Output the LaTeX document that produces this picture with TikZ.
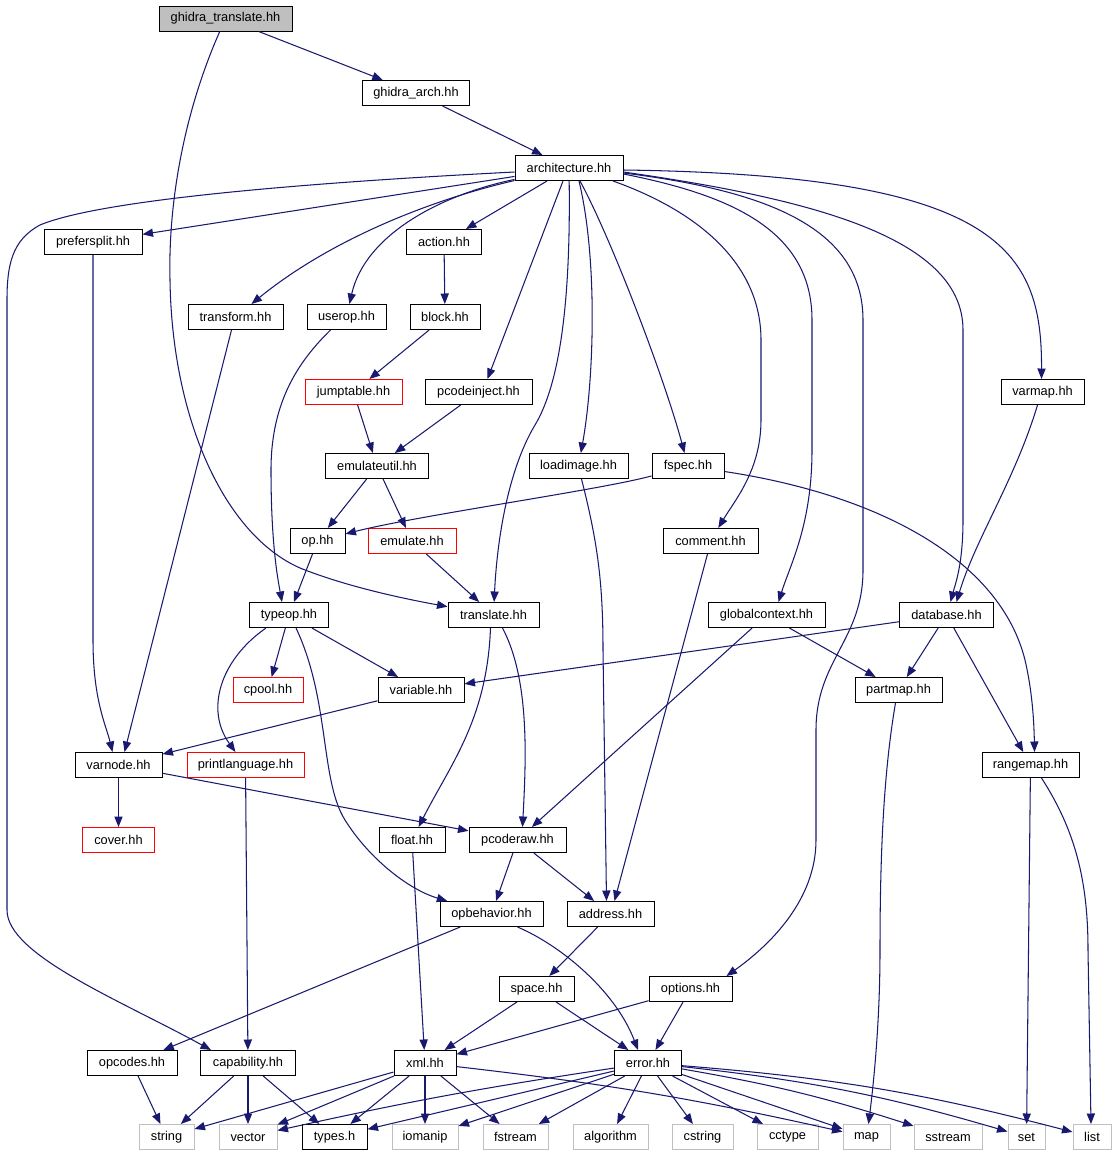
\documentclass[tikz,border=0pt]{standalone}
\usepackage{fontspec}
\setmainfont{Liberation Sans}
\usetikzlibrary{arrows.meta}
\definecolor{edgeblue}{RGB}{25,25,112}
\definecolor{greyS}{RGB}{191,191,191}
\begin{document}
\begin{tikzpicture}[x=1pt,y=-1pt,
  nd/.style={draw=black, line width=1pt, fill=white, minimum height=25pt, inner sep=0pt, font=\fontsize{12.8pt}{15pt}\selectfont},
  rednd/.style={nd, draw=red},
  sysnd/.style={nd, draw=greyS},
  rootnd/.style={nd, fill=greyS},
  conn/.style={draw=edgeblue, line width=1.05pt, -{Triangle[length=10.5pt,width=8.2pt]}}]
\useasboundingbox (0,0) rectangle (1117,1157);
\fill[white] (0,0) rectangle (1117,1157);

\node[rootnd, minimum width=133pt] (gt) at (225.5,18.5) {ghidra\_translate.hh};
\node[nd, minimum width=107pt] (ga) at (416,93) {ghidra\_arch.hh};
\node[nd, minimum width=108pt] (arch) at (569,168) {architecture.hh};
\node[nd, minimum width=98pt] (pfs) at (93,242) {prefersplit.hh};
\node[nd, minimum width=75pt] (act) at (444,242) {action.hh};
\node[nd, minimum width=95pt] (tf) at (235.5,317) {transform.hh};
\node[nd, minimum width=79pt] (uo) at (346.5,317) {userop.hh};
\node[nd, minimum width=70pt] (blk) at (445,317) {block.hh};
\node[rednd, minimum width=97pt] (jt) at (353.5,392) {jumptable.hh};
\node[nd, minimum width=107pt] (pi) at (478.5,392) {pcodeinject.hh};
\node[nd, minimum width=83pt] (vm) at (1042.5,392) {varmap.hh};
\node[nd, minimum width=103pt] (eu) at (377,466) {emulateutil.hh};
\node[nd, minimum width=99pt] (li) at (578.5,466) {loadimage.hh};
\node[nd, minimum width=72pt] (fs) at (688,466) {fspec.hh};
\node[nd, minimum width=55pt] (op) at (317.5,541) {op.hh};
\node[rednd, minimum width=88pt] (em) at (412,541) {emulate.hh};
\node[nd, minimum width=95pt] (cm) at (710.5,541) {comment.hh};
\node[nd, minimum width=79pt] (to) at (289,615) {typeop.hh};
\node[nd, minimum width=91pt] (tr) at (493.5,615) {translate.hh};
\node[nd, minimum width=117pt] (gc) at (766.5,615) {globalcontext.hh};
\node[nd, minimum width=94pt] (db) at (946.5,615) {database.hh};
\node[rednd, minimum width=70pt] (cp) at (268,690) {cpool.hh};
\node[nd, minimum width=86pt] (var) at (421,690) {variable.hh};
\node[nd, minimum width=87pt] (pm) at (898.5,690) {partmap.hh};
\node[nd, minimum width=87pt] (vn) at (118.5,765) {varnode.hh};
\node[rednd, minimum width=117pt] (pl) at (245.5,765) {printlanguage.hh};
\node[nd, minimum width=97pt] (rm) at (1030.5,765) {rangemap.hh};
\node[rednd, minimum width=72pt] (cov) at (118.5,840) {cover.hh};
\node[nd, minimum width=66pt] (fl) at (412,840) {float.hh};
\node[nd, minimum width=97pt] (pr) at (517.5,840) {pcoderaw.hh};
\node[nd, minimum width=103pt] (ob) at (491.5,914) {opbehavior.hh};
\node[nd, minimum width=87pt] (ad) at (610.5,914) {address.hh};
\node[nd, minimum width=75pt] (sp) at (536.5,989) {space.hh};
\node[nd, minimum width=83pt] (opt) at (690.5,989) {options.hh};
\node[nd, minimum width=90pt] (opc) at (132,1063) {opcodes.hh};
\node[nd, minimum width=95pt] (cap) at (248,1063) {capability.hh};
\node[nd, minimum width=62pt] (xml) at (425,1063) {xml.hh};
\node[nd, minimum width=67pt] (err) at (648,1063) {error.hh};
\node[sysnd, minimum width=55pt] (str) at (166.5,1137) {string};
\node[sysnd, minimum width=58pt] (vec) at (248,1137) {vector};
\node[nd, minimum width=65pt] (typ) at (334.5,1137) {types.h};
\node[sysnd, minimum width=66pt] (iom) at (425,1137) {iomanip};
\node[sysnd, minimum width=65pt] (fst) at (515.5,1137) {fstream};
\node[sysnd, minimum width=75pt] (alg) at (610.5,1137) {algorithm};
\node[sysnd, minimum width=61pt] (cst) at (702.5,1137) {cstring};
\node[sysnd, minimum width=61pt] (cct) at (787.5,1137) {cctype};
\node[sysnd, minimum width=47pt] (map) at (866.5,1137) {map};
\node[sysnd, minimum width=68pt] (sst) at (948,1137) {sstream};
\node[sysnd, minimum width=37pt] (set) at (1026.5,1137) {set};
\node[sysnd, minimum width=38pt] (lst) at (1092,1137) {list};

% curved edges
\draw[conn] (gt) .. controls (185,110) and (168,200) .. (170,280) .. controls (172,420) and (225,535) .. (300,568) .. controls (345,586) and (400,598) .. (tr);
\draw[conn] (arch) .. controls (430,200) and (330,240) .. (tf);
\draw[conn] (arch) .. controls (440,195) and (365,235) .. (uo);
\draw[conn] (arch) .. controls (571,320) and (556,390) .. (535,425) .. controls (508,470) and (497,540) .. (tr);
\draw[conn] ([xshift=10pt]arch.south) .. controls (598,260) and (594,380) .. (li);
\draw[conn] ([xshift=11pt]arch.south) .. controls (612,240) and (665,380) .. (fs);
\draw[conn] ([xshift=44pt]arch.south) .. controls (700,212) and (761,265) .. (761,340) -- (761,420) .. controls (761,470) and (735,500) .. (cm);
\draw[conn] ([yshift=-6pt]arch.east) .. controls (730,195) and (812,230) .. (812,320) -- (812,450) .. controls (812,525) and (790,565) .. ([xshift=12pt]gc.north);
\draw[conn] ([yshift=-5pt]arch.east) .. controls (760,190) and (863,225) .. (863,320) -- (863,570) .. controls (863,640) and (816,660) .. (816,730) -- (816,840) .. controls (816,900) and (770,945) .. ([xshift=36pt]opt.north);
\draw[conn] ([yshift=-4pt]arch.east) .. controls (820,200) and (963,240) .. (963,330) -- (963,520) .. controls (963,565) and (955,585) .. ([xshift=4pt]db.north);
\draw[conn] ([yshift=-2pt]arch.east) .. controls (1000,175) and (1042,250) .. ([xshift=-1pt]vm.north);
\draw[conn] ([yshift=-4pt]arch.west) .. controls (300,183) and (100,200) .. (40,225) .. controls (12,240) and (7,265) .. (7,300) -- (7,910) .. controls (7,955) and (120,1000) .. ([xshift=-37pt]cap.north);
\draw[conn] (pfs.south) -- (93,640) .. controls (93,700) and (106,725) .. ([xshift=-6pt]vn.north);
\draw[conn] ([xshift=-16pt]uo.south) .. controls (300,360) and (271,400) .. (271,470) .. controls (271,545) and (278,580) .. ([xshift=-7pt]to.north);
\draw[conn] ([xshift=-5pt]vm.south) .. controls (1015,480) and (975,540) .. ([xshift=10pt]db.north);
\draw[conn] (fs) .. controls (600,490) and (420,515) .. (op);
\draw[conn] (fs) .. controls (880,495) and (1000,560) .. (1025,660) .. controls (1032,690) and (1034,720) .. ([xshift=4pt]rm.north);
\draw[conn] ([xshift=3pt]li.south) .. controls (597,540) and (603,580) .. (603,650) -- ([xshift=-4pt]ad.north);
\draw[conn] ([xshift=-23pt]to.south) .. controls (220,660) and (205,710) .. ([xshift=-10pt]pl.north);
\draw[conn] ([xshift=7pt]to.south) .. controls (330,700) and (320,780) .. (345,820) .. controls (370,860) and (410,890) .. (ob);
\draw[conn] ([xshift=-3pt]tr.south) .. controls (487,720) and (450,765) .. (fl);
\draw[conn] ([xshift=9pt]tr.south) .. controls (530,680) and (526,760) .. ([xshift=5pt]pr.north);
\draw[conn] ([xshift=-3pt]pm.south) .. controls (884,770) and (880,850) .. (880,950) .. controls (880,1020) and (874,1080) .. ([xshift=2pt]map.north);
\draw[conn] ([xshift=11pt]rm.south) .. controls (1075,830) and (1088,880) .. (1088,950) -- ([xshift=-1pt]lst.north);
\draw[conn] ([xshift=26pt]ob.south) .. controls (560,945) and (615,990) .. ([xshift=-10pt]err.north);

% straight edges
\draw[conn] (gt) -- (ga);
\draw[conn] (ga) -- (arch);
\draw[conn] (arch) -- (pfs);
\draw[conn] (arch) -- (act);
\draw[conn] ([xshift=-6pt]arch.south) -- ([xshift=9pt]pi.north);
\draw[conn] (act) -- (blk);
\draw[conn] (blk) -- (jt);
\draw[conn] (jt) -- (eu);
\draw[conn] (pi) -- (eu);
\draw[conn] (eu) -- (op);
\draw[conn] (eu) -- (em);
\draw[conn] (em) -- (tr);
\draw[conn] (op) -- (to);
\draw[conn] ([xshift=-3pt]cm.south) -- ([xshift=4pt]ad.north);
\draw[conn] ([xshift=-4pt]tf.south) -- ([xshift=6pt]vn.north);
\draw[conn] (to) -- (cp);
\draw[conn] (to) -- (var);
\draw[conn] (gc) -- (pm);
\draw[conn] (gc) -- (pr);
\draw[conn] (db) -- (var);
\draw[conn] (db) -- (pm);
\draw[conn] (db) -- (rm);
\draw[conn] (var) -- (vn);
\draw[conn] (vn) -- (cov);
\draw[conn] (vn) -- (pr);
\draw[conn] (pl) -- (cap);
\draw[conn] (rm) -- (set);
\draw[conn] (fl) -- (xml);
\draw[conn] (pr) -- (ob);
\draw[conn] (pr) -- (ad);
\draw[conn] (ob) -- (opc);
\draw[conn] (ad) -- (sp);
\draw[conn] (sp) -- (xml);
\draw[conn] (sp) -- (err);
\draw[conn] (opt) -- (xml);
\draw[conn] (opt) -- (err);
\draw[conn] (opc) -- (str);
\draw[conn] (cap) -- (str);
\draw[conn] (cap) -- (vec);
\draw[conn] (cap) -- (typ);
\draw[conn] (xml) -- (str);
\draw[conn] (xml) -- (vec);
\draw[conn] (xml) -- (typ);
\draw[conn] (xml) -- (iom);
\draw[conn] (xml) -- (fst);
\draw[conn] (xml) to[bend left=3] (map);
\draw[conn] (err) to[bend right=2] (vec);
\draw[conn] (err) -- (typ);
\draw[conn] (err) -- (iom);
\draw[conn] (err) -- (fst);
\draw[conn] (err) -- (alg);
\draw[conn] (err) -- (cst);
\draw[conn] (err) -- (cct);
\draw[conn] (err) -- (map);
\draw[conn] (err) to[bend left=4] (sst);
\draw[conn] (err) to[bend left=5] (set);
\draw[conn] (err) to[bend left=5] (lst);
\end{tikzpicture}
\end{document}
